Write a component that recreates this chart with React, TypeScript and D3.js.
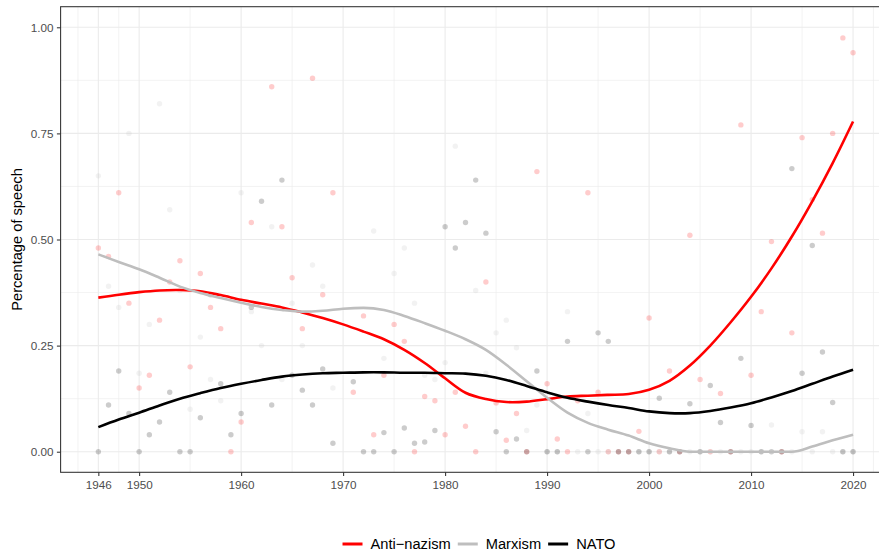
import React, { useEffect, useRef } from 'react';
import * as d3 from 'd3';

// yearly shares of speech per topic (null = no observation drawn)
const years = [
    1946, 1947, 1948, 1949, 1950, 1951, 1952, 1953, 1954, 1955,
    1956, 1957, 1958, 1959, 1960, 1961, 1962, 1963, 1964, 1965,
    1966, 1967, 1968, 1969, 1970, 1971, 1972, 1973, 1974, 1975,
    1976, 1977, 1978, 1979, 1980, 1981, 1982, 1983, 1984, 1985,
    1986, 1987, 1988, 1989, 1990, 1991, 1992, 1993, 1994, 1995,
    1996, 1997, 1998, 1999, 2000, 2001, 2002, 2003, 2004, 2005,
    2006, 2007, 2008, 2009, 2010, 2011, 2012, 2013, 2014, 2015,
    2016, 2017, 2018, 2019, 2020,
];

const antiNazism = [
    0.48, 0.46, 0.61, 0.35, 0.15, 0.18, 0.31, 0.4, 0.45, 0.2,
    0.42, 0.34, 0.29, 0, 0.07, 0.54, null, 0.86, 0.53, 0.41,
    0.29, 0.88, 0.37, 0.61, null, 0.14, 0.32, 0.04, 0.18, 0.3,
    0.26, 0, 0.13, 0.12, 0.04, 0.14, 0.06, 0, 0.4, 0.115,
    0.027, 0.09, 0, 0.66, 0.16, 0.03, 0, 0.12, 0.61, 0.14,
    0, 0, 0, 0.048, 0.315, 0, 0.19, 0, 0.51, 0.17,
    0, 0.137, 0, 0.77, 0.18, 0.33, 0.495, 0, 0.28, 0.74,
    0.594, 0.515, 0.75, 0.975, 0.94,
];

const marxism = [
    0.65, 0.39, 0.34, 0.75, 0.185, 0.3, 0.82, 0.57, 0.38, 0.1,
    0.27, 0.17, 0.12, null, 0.61, 0.33, 0.25, 0.53, 0.17, 0.35,
    0.25, 0.44, 0.39, 0.15, null, null, null, 0.52, 0.22, 0.42,
    0.48, 0.35, 0.18, 0.17, 0.21, 0.72, null, 0.38, 0.185, 0.28,
    0.31, 0.245, 0.05, 0.11, 0, 0, 0.33, 0, 0.09, 0,
    0, 0, 0, 0, 0, 0, 0, 0, 0, 0,
    0, 0, 0, 0, 0, 0, 0.063, 0, 0, 0.047,
    0, 0.047, 0, 0, 0,
];

const nato = [
    0, 0.11, 0.19, 0.09, 0, 0.04, 0.07, 0.14, 0, 0,
    0.08, 0.37, 0.16, 0.04, 0.09, 0.34, 0.59, 0.11, 0.64, 0.18,
    0.145, 0.11, 0.195, 0.02, null, 0.165, 0, 0, 0.045, 0,
    0.056, 0.02, 0.023, 0.05, 0.53, 0.48, 0.54, 0.64, 0.515, 0.047,
    0, 0.03, 0, 0.19, 0, 0, 0.26, null, 0, 0.28,
    0.26, 0, 0, 0, 0, 0.126, 0, 0, 0.113, 0,
    0.156, 0.069, 0, 0.22, 0.062, 0, 0, 0, 0.667, 0.185,
    0.486, 0.235, 0.116, 0, 0,
];

// smoothed trends, read every two years
const smoothYears = [
    1946, 1948, 1950, 1952, 1954, 1956, 1958, 1960, 1962, 1964,
    1966, 1968, 1970, 1972, 1974, 1976, 1978, 1980, 1982, 1984,
    1986, 1988, 1990, 1992, 1994, 1996, 1998, 2000, 2002, 2004,
    2006, 2008, 2010, 2012, 2014, 2016, 2018, 2020,
];

const antiNazismSmooth = [
    0.363, 0.37, 0.376, 0.38, 0.381, 0.378, 0.369, 0.358, 0.349, 0.34,
    0.328, 0.315, 0.3, 0.283, 0.265, 0.24, 0.209, 0.173, 0.139, 0.124,
    0.117, 0.118, 0.124, 0.13, 0.132, 0.134, 0.136, 0.146, 0.167, 0.203,
    0.25, 0.305, 0.365, 0.432, 0.507, 0.59, 0.68, 0.778,
];

const marxismSmooth = [
    0.465, 0.447, 0.43, 0.41, 0.389, 0.374, 0.362, 0.351, 0.341, 0.334,
    0.33, 0.332, 0.337, 0.339, 0.334, 0.32, 0.303, 0.285, 0.265, 0.24,
    0.205, 0.166, 0.127, 0.092, 0.068, 0.052, 0.038, 0.02, 0.008, 0,
    0, 0, 0, 0, 0, 0.012, 0.027, 0.04,
];

const natoSmooth = [
    0.058, 0.076, 0.092, 0.109, 0.125, 0.138, 0.15, 0.16, 0.169, 0.177,
    0.182, 0.185, 0.186, 0.187, 0.187, 0.186, 0.186, 0.185, 0.184, 0.179,
    0.169, 0.155, 0.14, 0.127, 0.118, 0.11, 0.103, 0.095, 0.091, 0.091,
    0.096, 0.104, 0.114, 0.128, 0.143, 0.16, 0.177, 0.193,
];

const seriesNames = ['Anti−nazism', 'Marxism', 'NATO'];
const seriesColours = ['#ff0000', '#bebebe', '#000000'];

const xTicks = [1946, 1950, 1960, 1970, 1980, 1990, 2000, 2010, 2020];
const xMinor = [1944, 1948, 1955, 1965, 1975, 1985, 1995, 2005, 2015, 2022];
const yTicks = [0, 0.25, 0.5, 0.75, 1];
const yMinor = [0.125, 0.375, 0.625, 0.875];

const W = 879;
const H = 554;

export default function App() {
    const svgRef = useRef<SVGSVGElement>(null);

    useEffect(() => {
        const svg = d3.select(svgRef.current);
        svg.selectAll('*').remove();

        const font = '"Liberation Sans", Arial, Helvetica, sans-serif';
        const left = 60.6;
        const right = 890.8;
        const top = 6.7;
        const bottom = 472.3;

        const x = d3.scaleLinear().domain([1942.3, 2023.7]).range([left, right]);
        const y = d3.scaleLinear().domain([-0.0485, 1.0485]).range([bottom, top]);

        svg.append('rect').attr('width', W).attr('height', H).attr('fill', '#ffffff');

        const grid = svg.append('g');
        const vGrid = (vals: number[], w: number) =>
            grid.append('g')
                .selectAll('line')
                .data(vals)
                .enter()
                .append('line')
                .attr('x1', (d) => x(d))
                .attr('x2', (d) => x(d))
                .attr('y1', top)
                .attr('y2', bottom)
                .attr('stroke', '#ebebeb')
                .attr('stroke-width', w);
        const hGrid = (vals: number[], w: number) =>
            grid.append('g')
                .selectAll('line')
                .data(vals)
                .enter()
                .append('line')
                .attr('x1', left)
                .attr('x2', right)
                .attr('y1', (d) => y(d))
                .attr('y2', (d) => y(d))
                .attr('stroke', '#ebebeb')
                .attr('stroke-width', w);
        vGrid(xMinor, 0.6);
        hGrid(yMinor, 0.6);
        vGrid(xTicks, 1.1);
        hGrid(yTicks, 1.1);

        const pointSets = [antiNazism, marxism, nato];
        const smoothSets = [antiNazismSmooth, marxismSmooth, natoSmooth];

        pointSets.forEach((vals, s) => {
            const pts = years
                .map((yr, i) => ({ yr, v: vals[i] }))
                .filter((d) => d.v !== null);
            svg.append('g')
                .selectAll('circle')
                .data(pts)
                .enter()
                .append('circle')
                .attr('cx', (d) => x(d.yr))
                .attr('cy', (d) => y(d.v as number))
                .attr('r', 2.7)
                .attr('fill', seriesColours[s])
                .attr('fill-opacity', 0.2);
        });

        smoothSets.forEach((vals, s) => {
            // grey trend sits flat on zero, keep it monotone there
            const curve = s === 1 ? d3.curveMonotoneX : d3.curveCatmullRom.alpha(0.5);
            const line = d3
                .line<number>()
                .x((d, i) => x(smoothYears[i]))
                .y((d) => y(d))
                .curve(curve);
            svg.append('path')
                .datum(vals)
                .attr('fill', 'none')
                .attr('stroke', seriesColours[s])
                .attr('stroke-width', 2.6)
                .attr('d', line);
        });

        svg.append('rect')
            .attr('x', left)
            .attr('y', top)
            .attr('width', right - left)
            .attr('height', bottom - top)
            .attr('fill', 'none')
            .attr('stroke', '#333333')
            .attr('stroke-width', 1.07);

        const yAxis = d3
            .axisLeft(y)
            .tickValues(yTicks)
            .tickFormat(d3.format('.2f'))
            .tickSize(3.7)
            .tickPadding(3.3);
        const gy = svg.append('g').attr('transform', `translate(${left},0)`).call(yAxis);

        const xAxis = d3
            .axisBottom(x)
            .tickValues(xTicks)
            .tickFormat(d3.format('d'))
            .tickSize(3.7)
            .tickPadding(4.4);
        const gx = svg.append('g').attr('transform', `translate(0,${bottom})`).call(xAxis);

        [gx, gy].forEach((g) => {
            g.select('.domain').remove();
            g.selectAll('line').attr('stroke', '#333333').attr('stroke-width', 1.07);
            g.selectAll('text')
                .attr('fill', '#4d4d4d')
                .style('font-family', font)
                .style('font-size', '11.7px');
        });

        svg.append('text')
            .attr('transform', `translate(21.5,${(top + bottom) / 2}) rotate(-90)`)
            .attr('text-anchor', 'middle')
            .style('font-family', font)
            .style('font-size', '14.67px')
            .attr('fill', '#000000')
            .text('Percentage of speech');

        // legend, centred under the plot
        const legend = svg.append('g');
        let cursor = 0;
        seriesNames.forEach((name, s) => {
            const item = legend.append('g').attr('transform', `translate(${cursor},0)`);
            item.append('line')
                .attr('x1', 0)
                .attr('x2', 20)
                .attr('y1', 0)
                .attr('y2', 0)
                .attr('stroke', seriesColours[s])
                .attr('stroke-width', 3);
            const t = item
                .append('text')
                .attr('x', 28)
                .attr('y', 5.2)
                .style('font-family', font)
                .style('font-size', '14.67px')
                .attr('fill', '#000000')
                .text(name);
            const tw = (t.node() as SVGTextElement).getComputedTextLength();
            cursor += 28 + tw + 7;
        });
        const total = cursor - 7;
        legend.attr('transform', `translate(${479 - total / 2},544)`);
    }, []);

    return (
        <svg
            ref={svgRef}
            width={W}
            height={H}
            style={{ position: 'absolute', left: 0, top: 0, display: 'block' }}
        />
    );
}
